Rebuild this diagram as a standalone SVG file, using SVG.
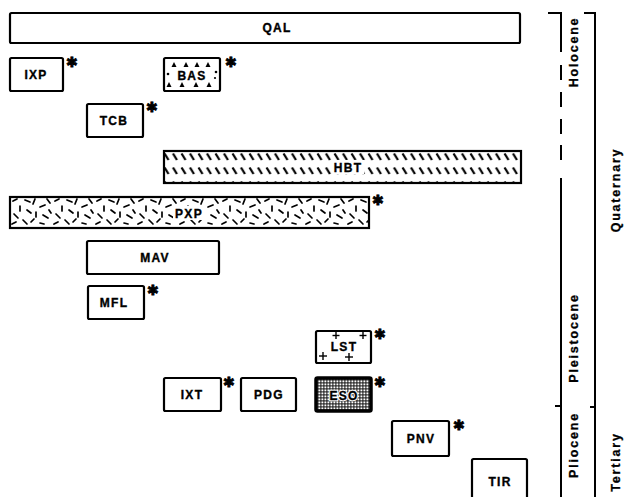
<svg xmlns="http://www.w3.org/2000/svg" width="624" height="497" viewBox="0 0 624 497">
<style>
.box{fill:#fff;stroke:#000;stroke-width:2.2}
.lbl{font-family:"Liberation Sans",Arial,sans-serif;font-weight:bold;font-size:12px;letter-spacing:1.3px;text-anchor:middle;fill:#000;stroke:#000;stroke-width:0.35}
.halo{font-family:"Liberation Sans",Arial,sans-serif;font-weight:bold;font-size:12px;letter-spacing:1.3px;text-anchor:middle;fill:#fff;stroke:#fff;stroke-width:2.5px}
.ast{font-family:"DejaVu Sans",sans-serif;font-weight:bold;font-size:14px;fill:#000;stroke:#000;stroke-width:0.8}
.ax{stroke:#000;stroke-width:2;fill:none}
.vl{font-family:"Liberation Sans",Arial,sans-serif;font-weight:bold;font-size:12.5px;letter-spacing:1.8px;text-anchor:middle;fill:#000;stroke:#000;stroke-width:0.3}
</style>
<defs>
<pattern id="hbt" patternUnits="userSpaceOnUse" x="163" y="151" width="8.5" height="14">
<line x1="1.5" y1="2.5" x2="5.5" y2="9" stroke="#000" stroke-width="2.2"/>
</pattern>
<pattern id="pxp" patternUnits="userSpaceOnUse" x="10" y="196" width="42" height="32">
<g stroke="#000" stroke-width="1.7" stroke-linecap="round">
<line x1="3" y1="5" x2="7" y2="3"/>
<line x1="10" y1="10" x2="10" y2="15"/>
<line x1="15" y1="4" x2="20" y2="6"/>
<line x1="25" y1="3" x2="23" y2="8"/>
<line x1="30" y1="11" x2="35" y2="9"/>
<line x1="37" y1="3" x2="40" y2="7"/>
<line x1="4" y1="18" x2="8" y2="22"/>
<line x1="17" y1="14" x2="21" y2="17"/>
<line x1="26" y1="16" x2="26" y2="21"/>
<line x1="33" y1="19" x2="38" y2="22"/>
<line x1="2" y1="28" x2="6" y2="26"/>
<line x1="13" y1="24" x2="17" y2="28"/>
<line x1="21" y1="26" x2="24" y2="23"/>
<line x1="30" y1="27" x2="34" y2="28"/>
<line x1="39" y1="14" x2="41" y2="17"/>
</g>
</pattern>
<pattern id="eso" patternUnits="userSpaceOnUse" x="315" y="377" width="3" height="3">
<rect width="3" height="3" fill="#111"/>
<rect x="0.4" y="0.4" width="2" height="2" fill="#fff"/>
</pattern>
</defs>

<g id="QAL"><rect class="box" x="10" y="13" width="510" height="30" rx="1.5"/><text class="lbl" x="277" y="32">QAL</text></g>

<g id="IXP"><rect class="box" x="10" y="58" width="53" height="33" rx="1.5"/><text class="lbl" x="36" y="79">IXP</text><text class="ast" x="66" y="67">✱</text></g>

<g id="BAS"><rect class="box" x="164" y="58" width="56" height="33" rx="1.5"/>
<g fill="#000">
<polygon points="174,62 176.5,67 171.5,67"/><polygon points="186,62 188.5,67 183.5,67"/><polygon points="197,62 199.5,67 194.5,67"/><polygon points="208,62 210.5,67 205.5,67"/>
<polygon points="169,82 171.5,87 166.5,87"/><polygon points="182,82 184.5,87 179.5,87"/><polygon points="196,82 198.5,87 193.5,87"/><polygon points="209,82 211.5,87 206.5,87"/>
<circle cx="168" cy="74" r="1.3"/><circle cx="216" cy="72" r="1.3"/><circle cx="215" cy="78" r="1.1"/>
</g>
<text class="lbl" x="192" y="80">BAS</text><text class="ast" x="225" y="67">✱</text></g>

<g id="TCB"><rect class="box" x="87" y="104" width="56" height="33" rx="1.5"/><text class="lbl" x="114" y="125">TCB</text><text class="ast" x="146" y="112">✱</text></g>

<g id="HBT"><rect x="164" y="151" width="357" height="32" fill="url(#hbt)" stroke="#000" stroke-width="2.2"/>
<rect x="332" y="160" width="32" height="14" fill="#fff"/>
<text class="lbl" x="348" y="172">HBT</text></g>

<g id="PXP"><rect x="10" y="197" width="359" height="31" fill="#fff" stroke="none"/><rect x="10" y="197" width="359" height="31" fill="url(#pxp)" stroke="#000" stroke-width="2.2"/>
<rect x="173" y="206" width="32" height="14" fill="#fff"/>
<text class="lbl" x="189" y="218">PXP</text><text class="ast" x="372" y="205">✱</text></g>

<g id="MAV"><rect class="box" x="87" y="241" width="132" height="33" rx="1.5"/><text class="lbl" x="155" y="262">MAV</text></g>

<g id="MFL"><rect class="box" x="88" y="286" width="56" height="33" rx="1.5"/><text class="lbl" x="114" y="307">MFL</text><text class="ast" x="147" y="295">✱</text></g>

<g id="LST"><rect class="box" x="316" y="331" width="55" height="32" rx="1.5"/>
<g stroke="#000" stroke-width="1.4">
<line x1="336" y1="332" x2="336" y2="339"/><line x1="332.5" y1="335.5" x2="339.5" y2="335.5"/>
<line x1="363" y1="332" x2="363" y2="339"/><line x1="359.5" y1="335.5" x2="366.5" y2="335.5"/>
<line x1="323" y1="352" x2="323" y2="360"/><line x1="319" y1="356" x2="327" y2="356"/>
<line x1="349" y1="353" x2="349" y2="361"/><line x1="345" y1="357" x2="353" y2="357"/>
</g>
<text class="lbl" x="344" y="351">LST</text><text class="ast" x="374" y="339">✱</text></g>

<g id="IXT"><rect class="box" x="164" y="378" width="57" height="33" rx="1.5"/><text class="lbl" x="192" y="399">IXT</text><text class="ast" x="223" y="387">✱</text></g>

<g id="PDG"><rect class="box" x="241" y="378" width="55" height="33" rx="1.5"/><text class="lbl" x="269" y="399">PDG</text></g>

<g id="ESO"><rect x="316" y="378" width="55" height="33" fill="url(#eso)" stroke="#000" stroke-width="3.5" rx="1.5"/>
<text class="halo" x="344" y="400" aria-hidden="true">ESO</text>
<text class="lbl" x="344" y="400">ESO</text><text class="ast" x="374" y="387">✱</text></g>

<g id="PNV"><rect class="box" x="392" y="421" width="57" height="35" rx="1.5"/><text class="lbl" x="421" y="443">PNV</text><text class="ast" x="453" y="430">✱</text></g>

<g id="TIR"><rect class="box" x="472" y="459" width="55" height="42" rx="1.5"/><text class="lbl" x="500" y="486">TIR</text></g>

<g id="connectors">
<path class="ax" d="M548,13 H561 V52"/>
<g class="ax"><line x1="561" y1="65" x2="561" y2="80"/><line x1="561" y1="92" x2="561" y2="107"/><line x1="561" y1="119" x2="561" y2="134"/><line x1="561" y1="145" x2="561" y2="160"/></g>
<path class="ax" d="M561,178 V497"/>
<path class="ax" d="M555,406 H561"/>
<path class="ax" d="M584,13 H595 V497"/>
<path class="ax" d="M590,407 H595"/>
</g>

<g id="labels">
<text class="vl" transform="translate(578,52) rotate(-90)">Holocene</text>
<text class="vl" transform="translate(578,338) rotate(-90)">Pleistocene</text>
<text class="vl" transform="translate(578,445) rotate(-90)">Pliocene</text>
<text class="vl" transform="translate(620,190) rotate(-90)">Quaternary</text>
<text class="vl" transform="translate(620,462) rotate(-90)">Tertiary</text>
</g>
</svg>
